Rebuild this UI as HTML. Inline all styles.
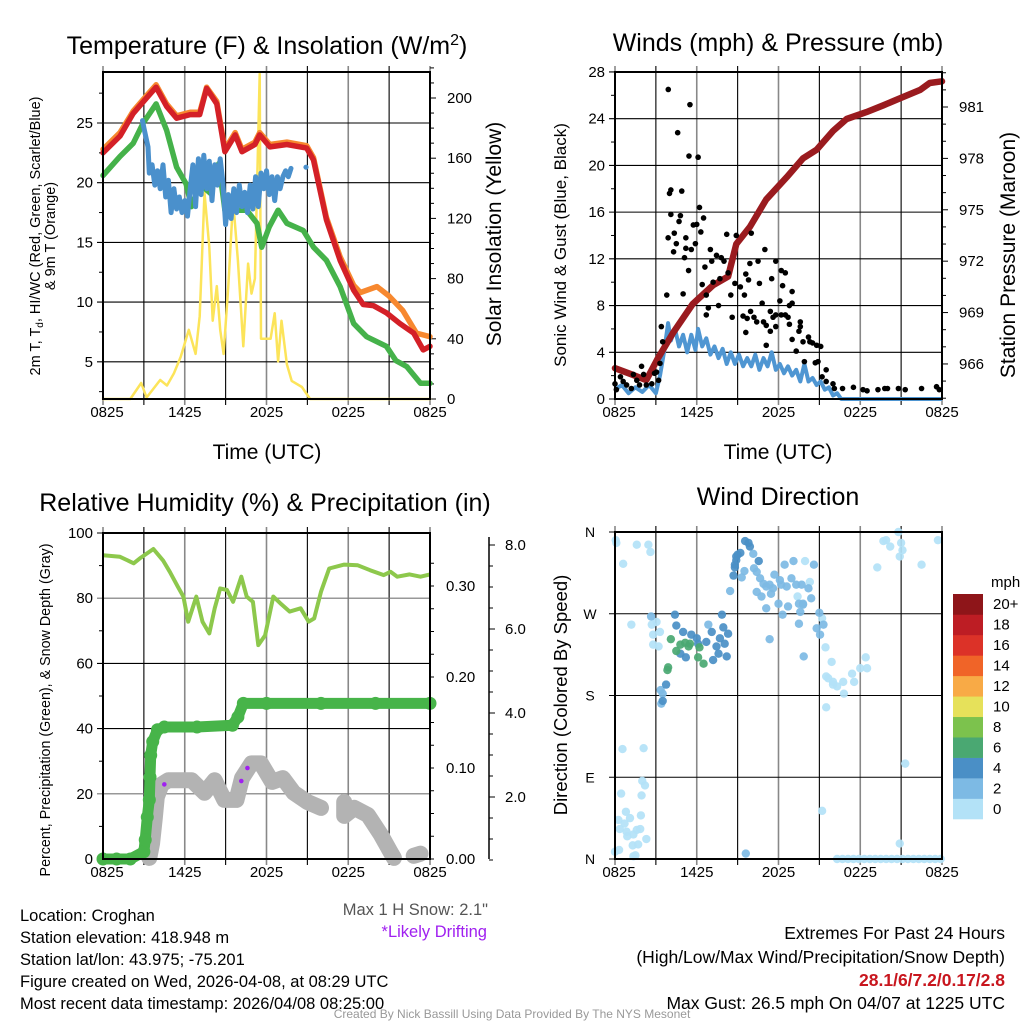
<!DOCTYPE html>
<html><head><meta charset="utf-8"><style>
html,body{margin:0;padding:0;background:#fff}
svg{display:block;font-family:"Liberation Sans",Arial,sans-serif}
</style></head><body>
<svg id="c" width="1024" height="1024" viewBox="0 0 1024 1024" xmlns="http://www.w3.org/2000/svg">
<rect width="1024" height="1024" fill="#fff"/>
<g id="p1"></g>
<g id="p2"></g>
<g id="p3"></g>
<g id="p4"></g>
<g font-size="25" text-anchor="middle" fill="#000">
<text x="267" y="54">Temperature (F) &amp; Insolation (W/m<tspan dy="-9" font-size="16">2</tspan><tspan dy="9">)</tspan></text>
<text x="778" y="51">Winds (mph) &amp; Pressure (mb)</text>
<text x="265" y="511">Relative Humidity (%) &amp; Precipitation (in)</text>
<text x="778" y="505">Wind Direction</text>
</g>
<g fill="#000">
<text x="267" y="459" font-size="21" text-anchor="middle">Time (UTC)</text>
<text x="778" y="459" font-size="21" text-anchor="middle">Time (UTC)</text>
<text transform="translate(40,236) rotate(-90)" font-size="14.5" text-anchor="middle">2m T, T<tspan font-size="10" dy="3">d</tspan><tspan dy="-3">, HI/WC (Red, Green, Scarlet/Blue)</tspan></text>
<text transform="translate(55,236) rotate(-90)" font-size="14.5" text-anchor="middle">&amp; 9m T (Orange)</text>
<text transform="translate(501,234) rotate(-90)" font-size="21" text-anchor="middle">Solar Insolation (Yellow)</text>
<text transform="translate(566,245) rotate(-90)" font-size="17" text-anchor="middle">Sonic Wind &amp; Gust (Blue, Black)</text>
<text transform="translate(1015,255) rotate(-90)" font-size="21" text-anchor="middle">Station Pressure (Maroon)</text>
<text transform="translate(50,710) rotate(-90)" font-size="14.3" text-anchor="middle">Percent, Precipitation (Green), &amp; Snow Depth (Gray)</text>
<text transform="translate(567,695) rotate(-90)" font-size="18.5" text-anchor="middle">Direction (Colored By Speed)</text>
</g>
<g font-size="16.5" fill="#000">
<text x="20" y="921">Location: Croghan</text>
<text x="20" y="943">Station elevation: 418.948 m</text>
<text x="20" y="965">Station lat/lon: 43.975; -75.201</text>
<text x="20" y="987">Figure created on Wed, 2026-04-08, at 08:29 UTC</text>
<text x="20" y="1009">Most recent data timestamp: 2026/04/08 08:25:00</text>
<text x="488" y="915" text-anchor="end" fill="#555">Max 1 H Snow: 2.1"</text>
<text x="487" y="937" text-anchor="end" fill="#a020f0">*Likely Drifting</text>
<g font-size="17.5">
<text x="1005" y="939" text-anchor="end">Extremes For Past 24 Hours</text>
<text x="1005" y="963" text-anchor="end">(High/Low/Max Wind/Precipitation/Snow Depth)</text>
<text x="1005" y="986" text-anchor="end" fill="#c8161e" font-weight="bold">28.1/6/7.2/0.17/2.8</text>
<text x="1005" y="1009" text-anchor="end">Max Gust: 26.5 mph On 04/07 at 1225 UTC</text>
</g>
<text x="512" y="1018" text-anchor="middle" fill="#999" font-size="12">Created By Nick Bassill Using Data Provided By The NYS Mesonet</text>
</g>
</svg>
<script>
// ---------- Panel 1 data (hours since 0825 UTC) ----------
const tempH=[0,1.25,2.22,3.2,3.9,4.67,5.4,6.4,7.1,7.6,8.35,8.95,9.7,10.2,11.15,11.5,12.25,13.5,14.95,15.45,16.4,17.4,18.4,19.1,19.85,20.8,21.8,22.8,23.5,24];
const tempV=[22.5,23.9,25.8,27.1,28.0,26.4,25.4,25.7,25.7,27.9,26.6,22.6,24.0,22.6,23.2,24.0,23.0,23.2,22.9,21.9,16.9,13.5,11.0,9.8,9.7,9.1,8.2,7.4,6.0,6.3];
const t9H=[0,1.25,2.22,3.2,3.9,4.67,5.4,6.4,7.1,7.6,8.35,8.95,9.7,10.2,11.15,11.5,12.25,13.5,14.95,15.45,16.4,17.4,18.4,18.9,20.1,21,22,23,24];
const t9V=[22.8,24.2,26.0,27.3,28.2,26.6,25.6,25.9,25.9,28.0,26.8,22.8,24.2,22.8,23.4,24.2,23.2,23.4,23.1,22.1,17.1,13.8,11.4,10.8,11.3,10.5,9.3,7.4,7.1];
const dewH=[0,1.25,2.22,2.95,3.9,4.67,5.4,6.1,6.5,7.1,7.9,8.5,8.95,10.55,11.3,11.65,12.2,12.85,13.5,14.7,15.45,16.4,17.4,18.4,19.35,20.8,21.5,22.3,23.3,24];
const dewV=[20.6,22.2,23.3,25.0,26.6,24.4,21.3,19.9,18.0,19.9,19.1,21.6,17.7,17.7,16.6,14.6,16.3,17.7,16.6,16.0,14.6,13.5,11.3,8.2,7.1,6.3,5.1,4.6,3.2,3.2];
const hiH=[2.9,3.0,3.3,3.4,3.6,3.8,4.0,4.2,4.4,4.6,4.8,5.0,5.2,5.4,5.6,5.8,6.0,6.2,6.4,6.6,6.8,7.0,7.2,7.4,7.6,7.8,8.0,8.2,8.4,8.6,8.8,9.0,9.2,9.4,9.6,9.8,10.0,10.2,10.4,10.6,10.8,11.0,11.2,11.4,11.6,11.8,12.0,12.2,12.4,12.6,12.8,13.0,13.2,13.4,13.6,13.8];
const hiV=[25.2,24.6,23.0,20.8,21.5,19.8,21.0,19.5,21.5,18.8,20.2,17.5,19.5,17.8,18.8,17.5,18.5,17.2,19.5,21.5,18.0,22.0,19.0,22.3,19.5,21.8,18.5,21.5,19.8,22.0,20.0,16.5,19.0,17.0,19.5,17.5,19.8,18.0,19.2,17.5,19.8,17.8,20.5,18.0,20.8,19.5,21.0,19.0,20.5,18.5,20.5,19.5,20.5,21.0,20.5,21.2];
const hiDotH=[14.9];
const hiDotV=[21.3];
const solH=[0,2.0,2.8,3.2,4.2,4.7,5.2,5.7,6.3,6.8,7.1,7.45,7.8,8.05,8.35,8.6,8.85,9.2,9.55,9.9,10.3,10.65,10.9,11.15,11.5,11.6,12.3,12.6,12.85,13.1,13.5,13.85,14.6,15.2,24];
const solV=[0,0,10.6,1,12.6,9,17,28,46,30,55,137,101,52,75,46,30,75,132,92,35,90,70,80,216,40,40,57,25,52,23,12,8,0,0];
const p1TempTicks=[5,10,15,20,25];
const p1SolTicks=[0,40,80,120,160,200];
const xTickLabels=["0825","1425","2025","0225","0825"];

// ---------- Panel 2 data ----------
const presH=[0,1.35,2.3,3.15,4.25,5.7,7.2,8.3,8.9,9.9,11.1,12.6,13.8,14.8,16.0,17.0,18.45,19.7,20.9,22.4,23.1,24];
const presV=[965.75,965.35,965.06,966.33,967.8,969.5,970.6,971.1,973.0,974.0,975.6,976.9,978.0,978.5,979.6,980.3,980.7,981.1,981.5,982.0,982.4,982.5];
const windH=[0,0.5,1.0,1.5,2.0,2.5,3.0,3.3,3.6,3.9,4.1,4.4,4.7,5.0,5.3,5.6,5.9,6.1,6.4,6.7,7.0,7.3,7.6,7.9,8.2,8.5,8.8,9.1,9.4,9.7,10.0,10.3,10.6,10.9,11.2,11.5,11.8,12.1,12.4,12.7,13.0,13.3,13.6,13.9,14.2,14.5,14.8,15.1,15.4,15.7,16.0,16.3,16.6,24];
const windV=[0.8,1.2,0.5,1.0,0.6,1.2,0.5,2.0,4.0,6.5,5.0,6.0,4.5,5.5,4.0,5.5,4.2,6.0,4.5,5.2,3.8,4.5,3.5,4.3,3.0,4.0,3.0,3.8,2.8,3.5,2.8,3.8,2.5,3.5,2.8,4.0,2.5,3.0,2.2,2.8,2.0,2.5,1.5,3.0,1.5,1.8,1.2,1.5,0.8,1.0,0.3,0.5,0.0,0.0];
const gustH=[3.91,5.5,4.6,5.43,6.1,4.0,4.1,4.9,4.1,4.8,6.2,6.5,4.7,5.75,6.0,6.3,3.9,4.35,4.5,5.2,5.9,4.3,5.2,5.6,5.1,7.0,7.45,7.8,8.2,8.9,10.0,5.4,6.6,7.1,8.0,11.0,11.8,9.9,10.5,3.8,5.0,6.4,7.2,7.7,8.3,8.8,9.2,9.5,9.6,9.8,10.6,11.5,12.2,12.5,12.3,13.0,6.7,7.6,6.85,6.7,8.5,10.8,12.1,12.8,13.0,8.6,9.4,9.7,9.95,10.2,10.4,10.9,11.1,11.4,11.6,11.8,12.2,12.5,12.7,11.8,11.4,11.1,9.6,12.8,13.6,13.6,13.0,13.5,13.8,14.2,14.3,14.5,14.8,15.1,13.3,13.9,14.7,14.9,15.5,3.4,3.5,1.95,15.2,15.5,16.0,16.1,16.7,17.5,18.2,18.5,19.3,19.8,20.0,20.8,21.3,22.5,23.6,23.8,0,0.1,0.4,0.85,1.2,1.6,2.1,2.3,2.7,2.9,3.2,3.3,3.05,0.6,1.35,1.8];
const gustV=[26.5,25.2,22.8,20.8,20.7,17.6,17.9,17.8,15.8,15.7,16.4,15.5,15.2,14.9,14.95,14.3,13.8,14.2,13.3,13.8,13.3,12.6,12.9,12.8,12.1,12.8,12.3,12.1,14.1,14.0,14.2,11.0,11.3,11.8,11.8,12.8,11.8,11.6,11.8,8.9,9.0,9.8,10.0,10.3,10.8,9.9,9.6,8.9,10.7,10.2,9.9,10.3,11.0,10.8,9.7,9.2,8.9,8.0,7.8,7.2,8.9,8.2,8.4,8.0,8.2,7.0,7.1,6.9,7.5,7.0,6.6,6.6,6.3,7.5,7.0,7.2,7.2,7.2,7.0,6.2,5.8,4.6,5.7,6.4,6.6,6.2,5.1,5.8,4.9,5.3,4.9,4.8,4.6,4.5,4.1,3.2,3.1,3.2,2.5,6.2,4.9,2.8,1.9,1.5,1.3,0.9,0.9,1.0,0.8,0.7,0.8,0.9,0.9,0.9,0.8,0.9,1.05,0.8,1.3,0.8,1.9,1.2,0.9,1.6,2.1,1.2,1.3,2.2,1.6,3.05,2.3,1.5,2.1,1.2];
const p2WindTicks=[0,4,8,12,16,20,24,28];
const p2PresTicks=[966,969,972,975,978,981];

// ---------- Panel 3 data ----------
const rhH=[0,1.25,2.25,2.7,3.7,4.4,4.9,5.5,5.9,6.25,6.85,7.3,7.8,8.2,8.6,9.1,9.55,10.15,10.55,11.0,11.4,11.9,12.5,13.0,13.7,14.5,15.1,15.5,16.0,16.6,17.7,18.7,19.6,20.6,21.1,21.6,22.5,23.3,24];
const rhV=[93.2,92.7,90.7,92.2,95.1,91.6,88.1,83.5,80.5,72.8,80.5,72.8,69.2,76.9,83.0,82.5,78.9,86.6,80.5,78.9,65.6,68.6,80.5,78.5,75.9,76.9,72.8,73.8,82.0,89.1,90.3,90.1,88.6,87.1,88.1,86.6,87.3,86.6,87.3];
const precH=[0,1,2,3.0,3.1,3.25,3.4,3.45,3.5,3.65,4.0,4.5,6.9,9.5,9.9,10.3,12,16,20,24];
const precV=[0,0,0,0.008,0.021,0.046,0.065,0.090,0.114,0.129,0.142,0.145,0.145,0.147,0.156,0.171,0.171,0.171,0.171,0.171];
const snowH=[3.4,3.6,3.8,3.95,4.3,4.8,6.5,7.45,8.2,8.9,9.8,10.2,10.9,11.6,12.4,13.2,14.0,15.0,16.0,null,17.7,17.7,18.45,19.45,20.4,21.1,21.35,null,22.8,23.3];
const snowV=[0.55,0.9,1.5,2.0,2.3,2.4,2.4,2.1,2.4,1.93,1.93,2.45,2.8,2.8,2.36,2.45,2.1,1.88,1.74,null,1.88,1.55,1.74,1.57,1.1,0.69,0.55,null,0.6,0.65];
const driftH=[4.5,10.15,10.6];
const driftV=[2.3,2.38,2.69];
const p3RhTicks=[0,20,40,60,80,100];
const p3PrecTicks=[0,0.1,0.2,0.3];
const p3SnowTicks=[2,4,6,8];

// ---------- Panel 4 data ----------
const dirH=[0.05,0.1,0.6,1.6,2.45,2.6,1.2,2.7,3.05,2.8,3.3,2.8,3.2,0.55,2.1,2.0,2.2,0.45,1.95,0.8,1.1,1.9,0.25,0.7,0.35,0.85,1.6,1.85,0.9,1.35,2.3,1.3,1.7,0,0.3,1.35,1.5,13.4,14.3,13.95,15.5,15.9,15.65,16.0,16.3,16.0,16.75,16.8,17.4,17.55,18.0,18.4,18.5,15.5,15.45,15.2,15.2,21.3,20.9,20.8,19.9,19.7,20.2,21.0,21.1,20.9,19.25,22.5,23.7,16.3,16.7,17.1,17.5,17.9,18.3,18.7,19.1,19.5,19.9,20.3,20.7,21.1,21.5,21.9,22.3,22.7,23.1,23.5,23.9,
8.45,9.3,9.5,10.15,10.2,10.4,10.65,10.9,11.1,11.35,11.6,10.4,10.75,11.1,11.45,11.7,12.1,12.45,12.2,12.6,13.1,12.95,13.3,13.7,14.2,12.0,12.3,12.7,13.5,13.8,14.4,14.6,13.6,13.8,15.0,15.3,14.8,15.05,13.5,11.35,13.85,6.85,2.65,3.4,3.5,3.35,9.6,
4.4,4.5,5.0,5.6,6.0,4.8,5.2,6.1,6.7,7.1,7.2,7.45,7.6,7.85,7.95,8.05,8.2,8.3,7.7,3.75,3.5,8.7,8.8,8.9,9.0,9.2,9.55,9.8,9.9,10.55,8.9,8.8,
4.1,3.9,3.85,4.5,4.8,5.4,5.5,6.2,6.1,6.5,5.15];
const dirV=[351,348,325,346,346,338,258,258,261,247,250,236,234,121,122,86,81,72,70,52,45,48,43,39,33,30,32,33,25,27,22,15,16,8,10,3,4,289,305,328,201,217,199,195,190,192,195,182,204,195,210,222,210,167,233,265,53,105,17,360,351,350,344,348,340,333,321,324,351,0,0,0,0,0,0,0,0,0,0,0,0,0,0,0,0,0,0,0,0,
295,310,317,336,320,316,309,303,300,302,298,294,289,276,292,313,307,324,302,300,328,309,302,302,298,281,269,278,281,281,287,324,272,280,271,258,254,247,259,242,223,258,267,171,182,186,6,
269,257,250,247,243,226,222,237,239,250,219,234,226,269,255,237,223,248,243,192,174,312,321,329,335,337,350,348,344,328,333,324,
242,211,208,229,236,234,237,233,222,215,238];
const dirSpd=[1,1,1,1,1,1,1,1,1,1,1,1,1,1,1,1,1,1,1,1,1,1,1,1,1,1,1,1,1,1,1,1,1,1,1,1,1,1,1,1,1,1,1,1,1,1,1,1,1,1,1,1,1,1,1,1,1,1,1,1,1,1,1,1,1,1,1,1,1,0.5,0.5,0.5,0.5,0.5,0.5,0.5,0.5,0.5,0.5,0.5,0.5,0.5,0.5,0.5,0.5,0.5,0.5,0.5,0.5,
3,3,3,3,3,3,3,3,3,3,3,3,3,3,3,3,3,3,3,3,3,3,3,3,3,3,3,3,3,3,3,3,3,3,3,3,3,3,3,3,3,3,3,3,3,3,3,
5,5,5,5,5,5,5,5,5,5,5,5,5,5,5,5,5,5,5,5,5,5,5,5,5,5,5,5,5,5,5,5,
7,7,7,7,7,7,7,7,7,7,7];
const dirTickLabels=["N","E","S","W","N"];
const speedLevels=["0","2","4","6","8","10","12","14","16","18","20+"];
const speedColors=["#b3e2f7","#7dbae4","#4a8fc6","#4aa872","#7cc24d","#e6e15a","#f8aa46","#f06428","#dc3228","#bd1d24","#8e1519"];

// ---------- helpers ----------
const NS="http://www.w3.org/2000/svg";
function mk(parent,tag,attrs){const e=document.createElementNS(NS,tag);for(const k in attrs)e.setAttribute(k,attrs[k]);parent.appendChild(e);return e;}
function pathFrom(H,V,fx,fy){let d="",pen=false;for(let i=0;i<H.length;i++){if(H[i]===null||V[i]===null){pen=false;continue;}d+=(pen?"L":"M")+fx(H[i]).toFixed(1)+","+fy(V[i]).toFixed(1);pen=true;}return d;}
function frame(g,x0,x1,y0,y1){
  for(let k=0;k<=8;k++){const x=x0+k*(x1-x0)/8;
    const l=mk(g,"line",{x1:x,x2:x,y1:y0-6,y2:y1+6,stroke:(k%2===0)?"#888":"#000","stroke-width":(k%2===0)?1.6:1.1});
    
    }
  for(let k=0;k<5;k++){const x=x0+k*(x1-x0)/4;
    const t=mk(g,"text",{x:x+(k===0?4:0),y:y1+18,"font-size":15,"text-anchor":"middle"});t.textContent=xTickLabels[k];
    
    }
}
function hline(g,x0,x1,y,color){const l=mk(g,"line",{x1:x0-6,x2:x1,y1:y,y2:y,stroke:color||"#000","stroke-width":1.1});
  
  }
function box(g,x0,x1,y0,y1){const r=mk(g,"rect",{x:x0,y:y0,width:x1-x0,height:y1-y0,fill:"none",stroke:"#000","stroke-width":2});
  
  }
function tick(g,x,y,len,horiz){mk(g,"line",horiz?{x1:x,x2:x+len,y1:y,y2:y,stroke:"#000","stroke-width":1}:{x1:x,x2:x,y1:y,y2:y+len,stroke:"#000","stroke-width":1});}
function label(g,x,y,txt,anchor,name,size){const t=mk(g,"text",{x:x,y:y,"font-size":size||15,"text-anchor":anchor});t.textContent=txt;
  
  return t;}

// ---------- Panel 1 ----------
(function(){
const g=document.getElementById("p1");
const X0=103,X1=430,Y0=72,Y1=399;
const x=h=>X0+h*(X1-X0)/24;
const yT=v=>123+(25-v)*11.94;
const yS=v=>399-v*1.505;
frame(g,X0,X1,Y0,Y1);
p1TempTicks.forEach(v=>{hline(g,X0,X1,yT(v));label(g,X0-10,yT(v)+5,String(v),"end","temp-tick-label",15);});
for(let v=2.5;v<=29;v+=2.5){if(v%5)tick(g,X0-4,yT(v),4,true);}
for(let v=0;v<=220;v+=10){tick(g,X1,yS(v),v%40===0?6:4,true);}
p1SolTicks.forEach(v=>label(g,X1+17,yS(v)+5,String(v),"start","solar-tick-label",15));
const mkLine=(H,V,fy,col,w,name)=>{const p=mk(g,"path",{d:pathFrom(H,V,x,fy),fill:"none",stroke:col,"stroke-width":w,"stroke-linejoin":"round","stroke-linecap":"round"});
  
  };
mkLine(solH,solV,yS,"#fce45a",2.5,"solar-insolation-line");
mkLine(t9H,t9V,yT,"#f7882f",5.5,"temp-9m-line");
mkLine(tempH,tempV,yT,"#d42027",5.5,"temp-2m-line");
mkLine(dewH,dewV,yT,"#45b24a",5.5,"dewpoint-line");
mkLine(hiH,hiV,yT,"#4a90cc",5,"heat-index-windchill-line");
hiDotH.forEach((h,i)=>{const c=mk(g,"circle",{cx:x(h),cy:yT(hiDotV[i]),r:2.6,fill:"#4a90cc"});
  
  });
box(g,X0,X1,Y0,Y1);
})();

// ---------- Panel 2 ----------
(function(){
const g=document.getElementById("p2");
const X0=615,X1=942,Y0=72,Y1=399;
const x=h=>X0+h*(X1-X0)/24;
const yW=v=>399-v*11.68;
const yP=p=>107+(981-p)*17.13;
frame(g,X0,X1,Y0,Y1);
p2WindTicks.forEach(v=>{hline(g,X0,X1,yW(v));label(g,X0-10,yW(v)+5,String(v),"end","wind-tick-label",15);});
for(let v=2;v<28;v+=4)tick(g,X0-4,yW(v),4,true);
for(let p=964;p<=983;p++)tick(g,X1,yP(p),(p%3===0)?6:4,true);
p2PresTicks.forEach(p=>label(g,X1+17,yP(p)+5,String(p),"start","pressure-tick-label",15));
const w=mk(g,"path",{d:pathFrom(windH,windV,x,yW),fill:"none",stroke:"#4f96d2","stroke-width":4,"stroke-linejoin":"round"});


const p=mk(g,"path",{d:pathFrom(presH,presV,x,yP),fill:"none",stroke:"#9a1b1f","stroke-width":6.5,"stroke-linejoin":"round","stroke-linecap":"round"});


gustH.forEach((h,i)=>{const c=mk(g,"circle",{cx:x(h),cy:yW(gustV[i]),r:2.8,fill:"#000"});
  
  });
box(g,X0,X1,Y0,Y1);
})();

// ---------- Panel 3 ----------
(function(){
const g=document.getElementById("p3");
const X0=103,X1=430,Y0=533,Y1=859;
const x=h=>X0+h*(X1-X0)/24;
const yR=v=>859-v*3.26;
const yPr=v=>859-v*910;
const ySn=v=>881-v*42;
frame(g,X0,X1,Y0,Y1);
p3RhTicks.forEach(v=>{hline(g,X0,X1,yR(v),(v===20||v===80)?"#777":"#000");label(g,X0-10,yR(v)+5,String(v),"end","rh-tick-label",15);});
for(let v=10;v<100;v+=20)tick(g,X0-4,yR(v),4,true);
for(let v=0;v<=0.34;v+=0.025)tick(g,X1,yPr(v),4,true);
p3PrecTicks.forEach(v=>label(g,X1+16,yPr(v)+5,v.toFixed(2),"start","precip-tick-label",15));
mk(g,"line",{x1:489,x2:489,y1:537,y2:859,stroke:"#000","stroke-width":1.5});
for(let v=0.5;v<=8.3;v+=0.5)tick(g,489,ySn(v),(v%2===0)?6:4,true);
p3SnowTicks.forEach(v=>label(g,505,ySn(v)+5,v.toFixed(1),"start","snow-tick-label",15));
const s=mk(g,"path",{d:pathFrom(snowH,snowV,x,ySn),fill:"none",stroke:"#b3b3b3","stroke-width":16,"stroke-linejoin":"round","stroke-linecap":"round"});


const pr=mk(g,"path",{d:pathFrom(precH,precV,x,yPr),fill:"none",stroke:"#47b449","stroke-width":11,"stroke-linejoin":"round","stroke-linecap":"round"});


precH.forEach((h,i)=>{const c=mk(g,"circle",{cx:x(h),cy:yPr(precV[i]),r:6.5,fill:"#47b449"});
  
  });
const r=mk(g,"path",{d:pathFrom(rhH,rhV,x,yR),fill:"none",stroke:"#8dc84c","stroke-width":4,"stroke-linejoin":"round"});


driftH.forEach((h,i)=>{const c=mk(g,"circle",{cx:x(h),cy:ySn(driftV[i]),r:2.3,fill:"#a020f0"});
  
  });
box(g,X0,X1,Y0,Y1);
})();

// ---------- Panel 4 ----------
(function(){
const g=document.getElementById("p4");
const X0=615,X1=942,Y0=532,Y1=859;
const x=h=>X0+h*(X1-X0)/24;
const yD=d=>859-d*(Y1-Y0)/360;
frame(g,X0,X1,Y0,Y1);
dirTickLabels.forEach((t,i)=>{const d=i*90;hline(g,X0,X1,yD(d));label(g,X0-25,yD(d)+5,t,"middle","direction-tick-label",14);});
const col=s=>speedColors[Math.min(10,Math.floor(s/2))];
dirH.forEach((h,i)=>{const c=mk(g,"circle",{cx:x(h),cy:yD(dirV[i]),r:4.2,fill:col(dirSpd[i]),"fill-opacity":0.92});
  
  });
box(g,X0,X1,Y0,Y1);
const cb=mk(g,"g",{});


const bh=225/11;
speedLevels.forEach((lv,i)=>{const top=594+(10-i)*bh;
  const r=mk(cb,"rect",{x:953,y:top,width:30,height:bh+0.3,fill:speedColors[i]});
  
  
  label(cb,993,top+bh/2+5,lv,"start","colorbar-label",15);});
label(cb,991,587,"mph","start","colorbar-title",15);
})();
</script>
</body></html>
